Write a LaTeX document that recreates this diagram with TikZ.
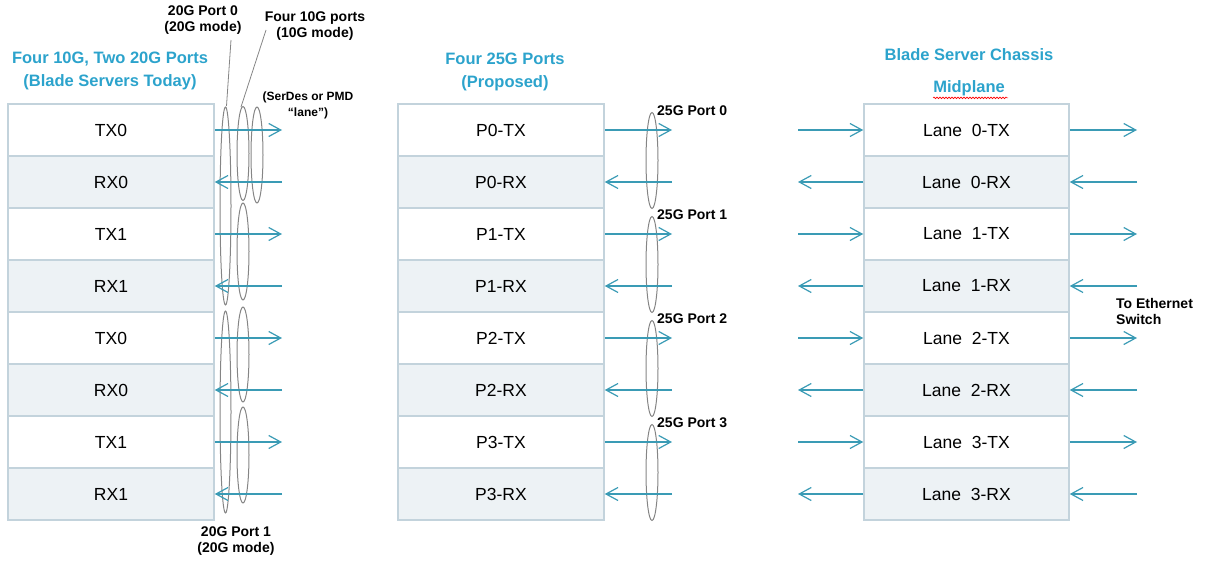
\documentclass[tikz,border=0pt]{standalone}
\usepackage{fontspec}
\setmainfont{Liberation Sans}
\usetikzlibrary{arrows.meta,decorations.pathmorphing}
\definecolor{tealarr}{HTML}{3A9BB5}
\definecolor{headcol}{HTML}{2CA3CC}
\definecolor{boxline}{HTML}{C3D3DC}
\definecolor{rxfill}{HTML}{EDF2F5}
\definecolor{ellcol}{HTML}{858585}
\begin{document}
\begin{tikzpicture}[x=1pt,y=-1pt,
  row/.style={draw=boxline, line width=1.5pt, minimum width=206pt, minimum height=52pt, inner sep=0pt, font=\fontsize{17.5}{20}\selectfont},
  txrow/.style={row, fill=white},
  rxrow/.style={row, fill=rxfill},
  arr/.style={draw=tealarr, line width=1.2pt, -{Straight Barb[length=12pt,width=13pt,line width=1.2pt]}},
  ring/.style={draw=ellcol, line width=1pt},
  hd/.style={text=headcol, font=\bfseries\fontsize{16.5}{22.5}\selectfont, align=center, inner sep=0pt},
  lbl/.style={font=\bfseries\fontsize{14}{16.5}\selectfont, align=center, inner sep=0pt},
  lead/.style={draw=ellcol, line width=0.8pt}]
\useasboundingbox (0,0) rectangle (1211,562);

% headings
\node[hd] (h1) at (110,71) {Four 10G, Two 20G Ports\\(Blade Servers Today)};
\node[hd] (h2) at (505,72) {Four 25G Ports\\(Proposed)};
\node[hd] (h3a) at (969,55) {Blade Server Chassis};
\node[hd] (h3b) at (969,88) {Midplane};
\draw[red, line width=0.6pt, decorate, decoration={snake,amplitude=0.8pt,segment length=3pt}] (h3b.south west) ++(0,2) -- ++(75,0);

% rows
\foreach \i/\la/\lb/\lc/\k in {0/TX0/P0-TX/0-TX/txrow,1/RX0/P0-RX/0-RX/rxrow,2/TX1/P1-TX/1-TX/txrow,3/RX1/P1-RX/1-RX/rxrow,4/TX0/P2-TX/2-TX/txrow,5/RX0/P2-RX/2-RX/rxrow,6/TX1/P3-TX/3-TX/txrow,7/RX1/P3-RX/3-RX/rxrow}{
  \node[\k] (L\i) at (111,{130+52*\i}) {\la};
  \node[\k] (M\i) at (501,{130+52*\i}) {\lb};
  \node[\k, minimum width=205pt] (R\i) at (966.5,{130+52*\i}) {Lane~~\lc};
  \coordinate (la\i) at (282,{130+52*\i});
  \coordinate (ma\i) at (672,{130+52*\i});
  \coordinate (rl\i) at (798,{130+52*\i});
  \coordinate (rr\i) at (1137,{130+52*\i});
}

% ellipses left
\draw[ring] (225.5,206) ellipse (5.5 and 99);
\draw[ring] (225.5,412) ellipse (5.5 and 101);
\draw[ring] (243,153.5) ellipse (6 and 47);
\draw[ring] (243,251.5) ellipse (6 and 48.5);
\draw[ring] (243,354.5) ellipse (6 and 47.5);
\draw[ring] (243,455) ellipse (6 and 48);
\draw[ring] (257,155) ellipse (6 and 48);
% ellipses middle
\foreach \p in {0,1,2,3}{
  \draw[ring] (652,{160.5+104*\p}) ellipse (6 and 48);
  \node[lbl, anchor=west] (pl\p) at (657,{111+104*\p}) {25G Port \p};
}

% left labels
\node[lbl] (l20a) at (203,20) {20G Port 0\\(20G mode)};
\node[lbl] (l10) at (315,26) {Four 10G ports\\(10G mode)};
\node[lbl, font=\bfseries\fontsize{12}{16}\selectfont] (lsd) at (308,105) {(SerDes or PMD\\“lane”)};
\node[lbl] (l20b) at (236,541) {20G Port 1\\(20G mode)};
\coordinate (s20) at (231,40);
\coordinate (e20) at (226.5,106);
\coordinate (s10) at (266,30);
\coordinate (e10) at (241,107);
\draw[lead] (s20) -- (e20);
\draw[lead] (s10) -- (e10);

% right label
\node[lbl, align=left, anchor=north west] (eth) at (1116,298) {To Ethernet\\Switch};

% arrows
\foreach \i in {0,2,4,6}{
  \draw[arr] (L\i.east) -- (la\i);
  \draw[arr] (M\i.east) -- (ma\i);
  \draw[arr] (rl\i) -- (R\i.west);
  \draw[arr] (R\i.east) -- (rr\i);
}
\foreach \i in {1,3,5,7}{
  \draw[arr] (la\i) -- (L\i.east);
  \draw[arr] (ma\i) -- (M\i.east);
  \draw[arr] (R\i.west) -- (rl\i);
  \draw[arr] (rr\i) -- (R\i.east);
}
\end{tikzpicture}
\end{document}
